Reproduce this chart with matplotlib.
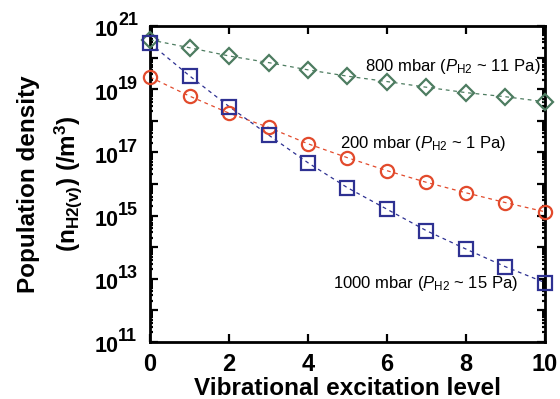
import numpy as np
import matplotlib
matplotlib.use('Agg')
import matplotlib.pyplot as plt
from matplotlib.ticker import LogLocator, NullFormatter, FuncFormatter

# vibrational levels and populations (log10 of /m^3)
levels = np.arange(0, 11)
log_800 = [20.56, 20.31, 20.05, 19.84, 19.61, 19.41, 19.24, 19.06, 18.89, 18.76, 18.60]
log_200 = [19.38, 18.78, 18.24, 17.79, 17.27, 16.83, 16.42, 16.05, 15.72, 15.41, 15.12]
log_1000 = [20.45, 19.42, 18.45, 17.55, 16.67, 15.88, 15.20, 14.52, 13.94, 13.38, 12.88]
label_exponents = [11, 13, 15, 17, 19, 21]

green = '#4d7c60'
red = '#e24a2c'
blue = '#2e3192'

plt.rcParams['font.family'] = 'Liberation Sans'
plt.rcParams['mathtext.fontset'] = 'custom'
plt.rcParams['mathtext.rm'] = 'Liberation Sans'
plt.rcParams['mathtext.it'] = 'Liberation Sans:italic'
plt.rcParams['mathtext.bf'] = 'Liberation Sans:bold'

fig = plt.figure(figsize=(5.6, 3.99), dpi=100)
ax = fig.add_axes([0.268, 0.143, 0.705, 0.792])

series = [
    (log_800, green, 'D', 7.8),
    (log_200, red, 'o', 9.5),
    (log_1000, blue, 's', 9.5),
]
for vals, c, m, ms in series:
    y = 10.0 ** np.array(vals)
    ax.plot(levels, y, ls=(0, (3, 3)), lw=0.9, color=c, clip_on=False, zorder=2)
    ax.plot(levels, y, ls='none', marker=m, ms=ms, mfc='none', mec=c, mew=1.6,
            clip_on=False, zorder=3)

ax.set_yscale('log')
ax.set_xlim(0, 10)
ax.set_ylim(1e11, 1e21)
ax.set_xticks([0, 2, 4, 6, 8, 10])
ax.yaxis.set_major_locator(LogLocator(base=10, numticks=20))
ax.yaxis.set_minor_locator(LogLocator(base=10, subs=np.arange(2, 10), numticks=20))
ax.yaxis.set_major_formatter(NullFormatter())
ax.yaxis.set_minor_formatter(NullFormatter())
ax.xaxis.set_major_formatter(FuncFormatter(lambda v, p: '%d' % v))

ax.tick_params(which='both', direction='in', top=True, right=True, width=1.6)
ax.tick_params(which='major', length=5.5)
ax.tick_params(which='minor', length=2.5)
ax.tick_params(axis='x', labelsize=17, pad=8)
for lab in ax.get_xticklabels():
    lab.set_fontweight('bold')
for s in ax.spines.values():
    s.set_linewidth(2)

# y tick labels: "10" with a large exponent
ytr = ax.get_yaxis_transform()
for e in label_exponents:
    ax.annotate('10', xy=(0, 10.0 ** e), xycoords=ytr, xytext=(-31, -5),
                textcoords='offset pixels', ha='right', va='center',
                fontsize=15.5, fontweight='bold', annotation_clip=False)
    ax.annotate('%d' % e, xy=(0, 10.0 ** e), xycoords=ytr, xytext=(-32, 5),
                textcoords='offset pixels', ha='left', va='center',
                fontsize=13, fontweight='bold', annotation_clip=False)

ax.set_xlabel('Vibrational excitation level', fontsize=17.5, fontweight='bold', labelpad=1)
ax.set_ylabel('Population density\n' + r'(n$_{\mathbf{H2(v)}}$) (/m$^{\mathbf{3}}$)',
              fontsize=17.5, fontweight='bold', linespacing=1.55, labelpad=44)

ax.text(5.44, 10 ** 19.73, r'800 mbar ($P_{\mathrm{H2}}$ ~ 11 Pa)', fontsize=12, va='center')
ax.text(4.81, 10 ** 17.27, r'200 mbar ($P_{\mathrm{H2}}$ ~ 1 Pa)', fontsize=12, va='center')
ax.text(4.63, 10 ** 12.84, r'1000 mbar ($P_{\mathrm{H2}}$ ~ 15 Pa)', fontsize=12, va='center')

fig.savefig('out.png', dpi=100)
